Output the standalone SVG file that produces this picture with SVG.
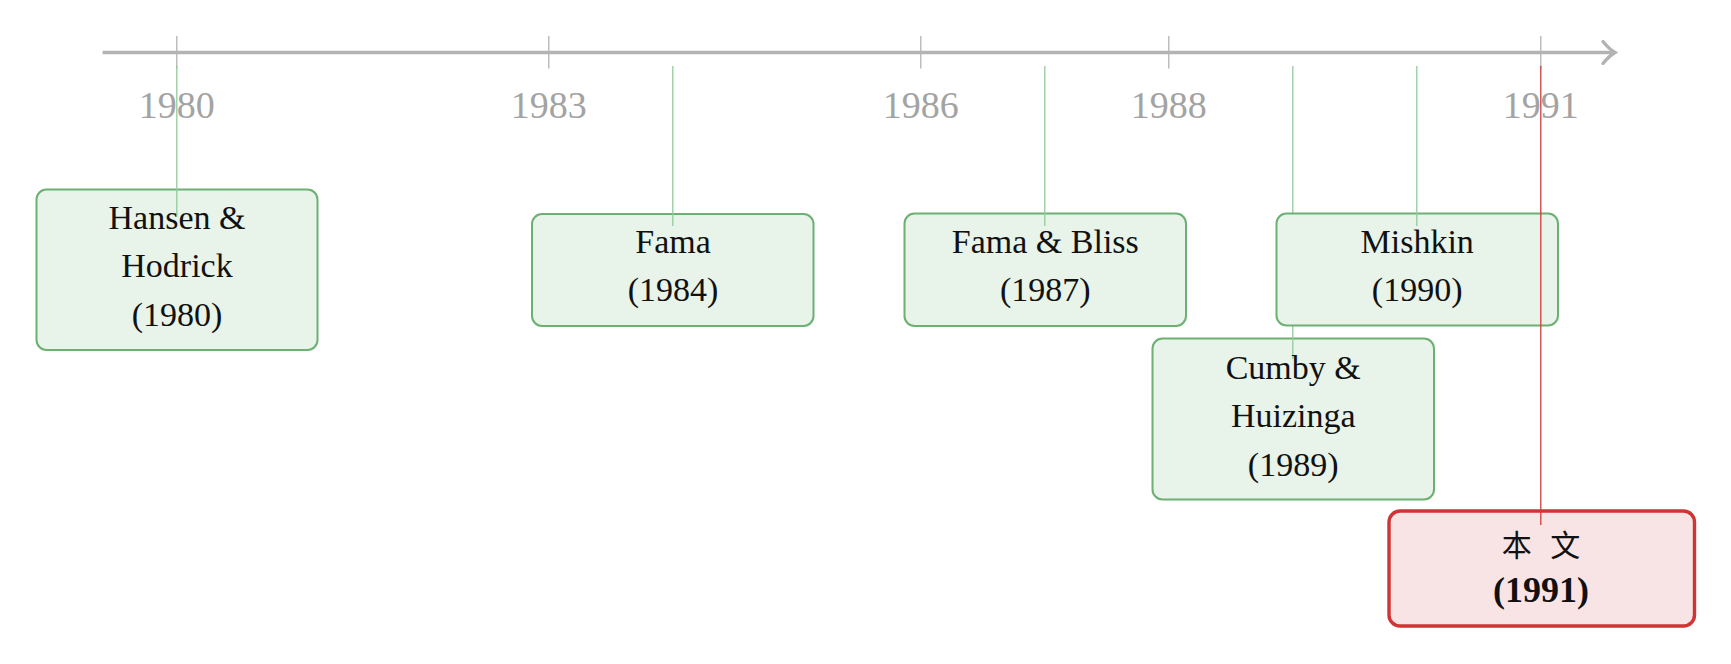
<svg xmlns="http://www.w3.org/2000/svg" width="1731" height="664" viewBox="0 0 1731 664">
<style>
.axis{stroke:#b3b3b3;stroke-width:3.4;fill:none}
.tick{stroke:#b3b3b3;stroke-width:1.3}
.yl{font-family:"Liberation Serif",serif;font-size:38px;fill:#a3a3a3;text-anchor:middle}
.box{fill:#e8f3e9;stroke:#6cb072;stroke-width:2}
.rbox{fill:#f8e4e5;stroke:#d03434;stroke-width:3.4}
.gl{stroke:#93c99b;stroke-width:1.3}
.rl{stroke:#d33a3a;stroke-width:1.3}
.t{font-family:"Liberation Serif",serif;font-size:34px;fill:#111;text-anchor:middle}
.tb{font-family:"Liberation Serif",serif;font-size:36px;font-weight:bold;fill:#111;text-anchor:middle}
.cjk{font-family:"Noto Sans CJK SC",sans-serif;font-size:30px;fill:#111;text-anchor:middle}
</style>
<g id="axis">
<line class="axis" x1="102.6" y1="52.5" x2="1613" y2="52.5"/>
<path class="axis" d="M1603,41.5 Q1609,49 1615,52.5 Q1609,56 1603,63.5" stroke-width="3" stroke-linecap="round"/>
<line class="tick" x1="176.8" y1="36" x2="176.8" y2="68.5"/>
<line class="tick" x1="548.8" y1="36" x2="548.8" y2="68.5"/>
<line class="tick" x1="920.8" y1="36" x2="920.8" y2="68.5"/>
<line class="tick" x1="1168.8" y1="36" x2="1168.8" y2="68.5"/>
<line class="tick" x1="1540.8" y1="36" x2="1540.8" y2="68.5"/>
<text class="yl" x="176.8" y="117.5">1980</text>
<text class="yl" x="548.8" y="117.5">1983</text>
<text class="yl" x="920.8" y="117.5">1986</text>
<text class="yl" x="1168.8" y="117.5">1988</text>
<text class="yl" x="1540.8" y="117.5">1991</text>
</g>
<g id="hansen">
<rect class="box" x="36.5" y="189.5" width="281" height="160.5" rx="10"/>
<line class="gl" x1="176.8" y1="66" x2="176.8" y2="217"/>
<text class="t" x="177" y="228.5">Hansen &amp;</text>
<text class="t" x="177" y="277">Hodrick</text>
<text class="t" x="177" y="326">(1980)</text>
</g>
<g id="fama">
<rect class="box" x="532" y="214" width="281.5" height="112" rx="10"/>
<line class="gl" x1="672.8" y1="66" x2="672.8" y2="226"/>
<text class="t" x="673" y="252.5">Fama</text>
<text class="t" x="673" y="301">(1984)</text>
</g>
<g id="famabliss">
<rect class="box" x="904.5" y="213.5" width="281.5" height="112.5" rx="10"/>
<line class="gl" x1="1044.8" y1="66" x2="1044.8" y2="226"/>
<text class="t" x="1045.3" y="252.5">Fama &amp; Bliss</text>
<text class="t" x="1045.3" y="301">(1987)</text>
</g>
<g id="cumby">
<rect class="box" x="1152.5" y="338.5" width="281.5" height="161" rx="10"/>
<line class="gl" x1="1292.8" y1="66" x2="1292.8" y2="359"/>
<text class="t" x="1293.2" y="378.5">Cumby &amp;</text>
<text class="t" x="1293.2" y="427">Huizinga</text>
<text class="t" x="1293.2" y="475.5">(1989)</text>
</g>
<g id="mishkin">
<rect class="box" x="1276.5" y="213.5" width="281.5" height="112" rx="10"/>
<line class="gl" x1="1416.8" y1="66" x2="1416.8" y2="226"/>
<text class="t" x="1417.2" y="252.5">Mishkin</text>
<text class="t" x="1417.2" y="301">(1990)</text>
</g>
<g id="this-paper">
<rect class="rbox" x="1389" y="511" width="305.5" height="115" rx="11"/>
<line class="rl" x1="1540.8" y1="66" x2="1540.8" y2="525"/>
<text class="cjk" x="1541" y="556" word-spacing="12">本 文</text>
<text class="tb" x="1541" y="601.5">(1991)</text>
</g>
</svg>
